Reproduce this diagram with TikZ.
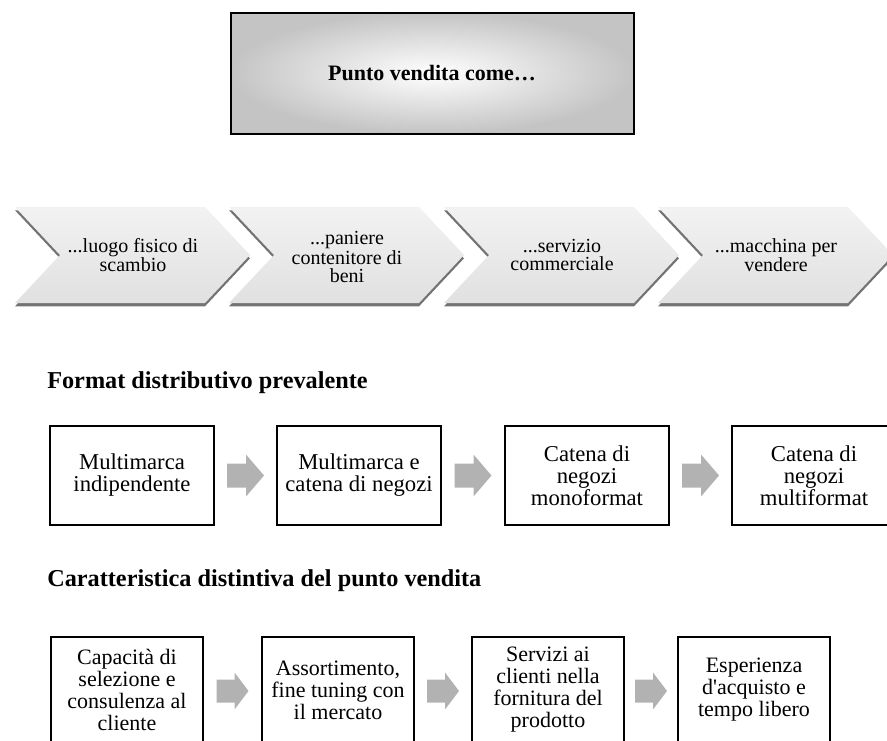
\documentclass[tikz,border=0pt]{standalone}
\usepackage{fontspec}
\setmainfont{Liberation Serif}
\usetikzlibrary{calc,shadows}
\definecolor{arrowgray}{RGB}{178,178,178}
\definecolor{edgegray}{RGB}{196,196,196}
% block arrow: centre, half length, head length, body half height, head half height
\newcommand\grayblock[5]{%
  \fill[arrowgray] ($(#1)+(-#2,-#4)$) -- ($(#1)+({#2-#3},-#4)$) -- ($(#1)+({#2-#3},-#5)$)
    -- ($(#1)+(#2,0)$) -- ($(#1)+({#2-#3},#5)$) -- ($(#1)+({#2-#3},#4)$)
    -- ($(#1)+(-#2,#4)$) -- cycle;}
\begin{document}
\begin{tikzpicture}[x=0.75pt,y=-0.75pt,
  topbox/.style={draw=black,line width=1.5pt,inner color=white,outer color=edgegray,
    minimum width=302.25pt,minimum height=90.75pt,font=\fontsize{16.5}{18}\selectfont\bfseries},
  chev/.style={top color=gray!10,middle color=white,bottom color=gray!24,
    drop shadow={shadow xshift=0pt,shadow yshift=-2.5pt,opacity=0.55,fill=black}},
  chevtext/.style={align=center,inner sep=0pt,font=\fontsize{15}{13.5}\selectfont},
  hdr/.style={anchor=base west,inner sep=0pt,font=\fontsize{18.2}{20}\selectfont\bfseries},
  fbox/.style={draw=black,line width=1.3pt,fill=white,align=center,inner sep=0pt,
    minimum width=123pt,minimum height=74.25pt,font=\fontsize{17}{16.5}\selectfont},
  cbox/.style={draw=black,line width=1.3pt,fill=white,align=center,inner sep=0pt,
    minimum width=114pt,minimum height=80pt,font=\fontsize{16.5}{16.5}\selectfont}]
\useasboundingbox (0,0) rectangle (887,740);

% title box
\node[topbox] (title) at (432,73) {Punto vendita come…};

% chevrons
\foreach \L in {15,229,444,658}{
  \path[chev] (\L,207) -- ++(190,0) -- ++(45,48) -- ++(-45,48) -- ++(-190,0) -- ++(45,-48) -- cycle;
}
\node[chevtext] (c1) at (133,255) {...luogo fisico di\\scambio};
\node[chevtext] (c2) at (347,257) {...paniere\\contenitore di\\beni};
\node[chevtext] (c3) at (562,255) {...servizio\\commerciale};
\node[chevtext] (c4) at (776,255) {...macchina per\\vendere};

% headers
\node[hdr] (h1) at (47,388) {Format distributivo prevalente};
\node[hdr] (h2) at (47,586) {Caratteristica distintiva del punto vendita};

% row 2
\node[fbox] (f1) at (132,475.5) {Multimarca\\indipendente};
\node[fbox] (f2) at (359,475.5) {Multimarca e\\catena di negozi};
\node[fbox] (f3) at (587,475.5) {Catena di\\negozi\\monoformat};
\node[fbox] (f4) at (814,475.5) {Catena di\\negozi\\multiformat};
\coordinate (a12) at ($(f1.east)!0.5!(f2.west)$);
\coordinate (a23) at ($(f2.east)!0.5!(f3.west)$);
\coordinate (a34) at ($(f3.east)!0.5!(f4.west)$);
\grayblock{a12}{18.5}{18}{12}{21}
\grayblock{a23}{18.5}{18}{12}{21}
\grayblock{a34}{18.5}{18}{12}{21}

% row 3
\node[cbox] (k1) at (127,690) {Capacità di\\selezione e\\consulenza al\\cliente};
\node[cbox] (k2) at (338,690) {Assortimento,\\fine tuning con\\il mercato};
\node[cbox] (k3) at (548,690) {Servizi ai\\clienti nella\\fornitura del\\prodotto};
\node[cbox] (k4) at (754,690) {Esperienza\\d\textquotesingle acquisto e\\tempo libero};
\coordinate (b12) at ($(k1.east)!0.5!(k2.west)+(0,1)$);
\coordinate (b23) at ($(k2.east)!0.5!(k3.west)+(0,1)$);
\coordinate (b34) at ($(k3.east)!0.5!(k4.west)+(0,1)$);
\grayblock{b12}{16}{14}{11.5}{18.5}
\grayblock{b23}{16}{14}{11.5}{18.5}
\grayblock{b34}{16}{14}{11.5}{18.5}
\end{tikzpicture}
\end{document}
